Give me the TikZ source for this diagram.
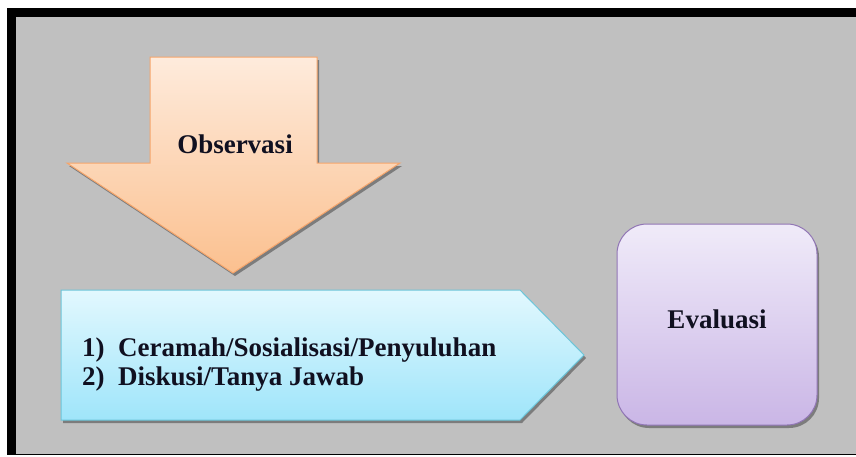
\documentclass[tikz,border=0pt]{standalone}
\usepackage{fontspec}
\setmainfont{Liberation Serif}
\definecolor{bggray}{HTML}{C0C0C0}
\definecolor{orTop}{HTML}{FEEBDC}
\definecolor{orBot}{HTML}{FBC08F}
\definecolor{orLine}{HTML}{F5A56B}
\definecolor{blTop}{HTML}{E2F8FE}
\definecolor{blBot}{HTML}{9FE5FA}
\definecolor{blLine}{HTML}{6CC5D9}
\definecolor{puTop}{HTML}{F0EBF9}
\definecolor{puBot}{HTML}{CAB6E6}
\definecolor{puLine}{HTML}{9176B5}
\definecolor{txt}{HTML}{101020}
\begin{document}
\begin{tikzpicture}[x=1pt,y=-1pt,
  shadowfill/.style={fill=black,opacity=0.35},
  lbl/.style={inner sep=0pt,font=\fontsize{27}{30}\selectfont\bfseries,text=txt},
  shapeline/.style={line width=1pt}]
\useasboundingbox (0,0) rectangle (856,456);
\fill[white] (0,0) rectangle (856,456);
\fill[black] (7,8) rectangle (856,455);
\fill[bggray] (15.5,16.5) rectangle (856,453.5);
% down arrow
\fill[shadowfill] ([shift={(2,3)}]150,57) -- ++(167,0) -- ++(0,106) -- ++(83,0) -- ++(-167,110) -- ++(-166,-110) -- ++(83,0) -- cycle;
\draw[shapeline,draw=orLine,top color=orTop,bottom color=orBot]
  (150,57) -- (317,57) -- (317,163) -- (400,163) -- (233,273) -- (67,163) -- (150,163) -- cycle;
\node[lbl,anchor=base] (obs) at (235,153) {Observasi};
% pentagon
\fill[shadowfill] ([shift={(2,3)}]61,290) -- ++(459,0) -- ++(64,65) -- ++(-64,65) -- ++(-459,0) -- cycle;
\draw[shapeline,draw=blLine,top color=blTop,bottom color=blBot]
  (61,290) -- (520,290) -- (584,355) -- (520,420) -- (61,420) -- cycle;
\node[lbl,anchor=base west] (m1) at (82,356) {\makebox[36pt][l]{1)}Ceramah/Sosialisasi/Penyuluhan};
\node[lbl,anchor=base west] (m2) at (82,385) {\makebox[36pt][l]{2)}Diskusi/Tanya Jawab};
% evaluasi box
\fill[shadowfill,rounded corners=30pt] (619,227) rectangle (819,428);
\draw[shapeline,draw=puLine,top color=puTop,bottom color=puBot,rounded corners=30pt]
  (617,224) rectangle (817,425);
\node[lbl,anchor=base] (eva) at (717,328) {Evaluasi};
\end{tikzpicture}
\end{document}
